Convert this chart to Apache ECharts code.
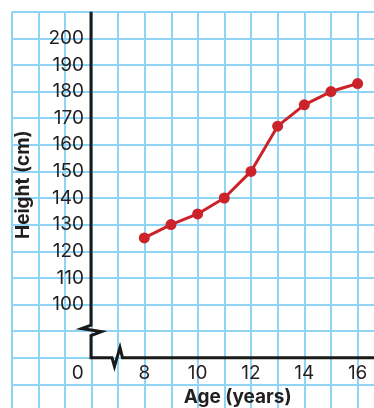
<!DOCTYPE html>
<html><head><meta charset="utf-8">
<script src="https://cdn.jsdelivr.net/npm/echarts@6/dist/echarts.min.js"></script>
<style>html,body{margin:0;padding:0;background:#fff}#c{width:374px;height:408px}</style>
</head><body><div id="c"></div>
<script>
const ages = [8, 9, 10, 11, 12, 13, 14, 15, 16];
const heights = [125, 130, 134, 140, 150, 167, 175, 180, 183];
const xTickValues = [8, 10, 12, 14, 16];
const yTickValues = [100, 110, 120, 130, 140, 150, 160, 170, 180, 190, 200];
const originLabel = '0';
const xTitle = 'Age (years)';
const yTitle = 'Height (cm)';

const gridColor = '#8fd4f3';
const ink = '#231f20';
const red = '#cc2229';
const font = 'Inter';

const chart = echarts.init(document.getElementById('c'), null, {renderer: 'canvas'});
const option = {
  animation: false,
  backgroundColor: '#fff',
  grid: [
    {left: 11.7, top: 11.7, right: -10.3, bottom: -3, outerBoundsMode: 'none', containLabel: false},
    {left: 91, top: 11.7, right: -10.3, bottom: 50.3, outerBoundsMode: 'none', containLabel: false}
  ],
  xAxis: [
    {gridIndex: 0, type: 'value', min: 3, max: 17, interval: 1,
     axisLine: {show: false}, axisTick: {show: false}, axisLabel: {show: false},
     splitLine: {show: true, lineStyle: {color: gridColor, width: 2}}},
    {gridIndex: 1, type: 'value', min: 6, max: 17, interval: 2,
     axisLine: {show: false}, axisTick: {show: false}, splitLine: {show: false},
     axisLabel: {formatter: v => xTickValues.includes(v) ? String(v) : '', color: ink,
                 fontFamily: font, fontSize: 19, margin: 6},
     name: xTitle, nameLocation: 'middle', nameGap: 28,
     nameTextStyle: {color: ink, fontFamily: font, fontWeight: 'bold', fontSize: 19}}
  ],
  yAxis: [
    {gridIndex: 0, type: 'value', min: 60, max: 210, interval: 10,
     axisLine: {show: false}, axisTick: {show: false}, axisLabel: {show: false},
     splitLine: {show: true, lineStyle: {color: gridColor, width: 2}}},
    {gridIndex: 1, type: 'value', min: 80, max: 210, interval: 10,
     axisLine: {show: false}, axisTick: {show: false}, splitLine: {show: false},
     axisLabel: {formatter: v => yTickValues.includes(v) ? String(v) : '', color: ink,
                 fontFamily: font, fontSize: 19, margin: 7},
     name: yTitle, nameLocation: 'middle', nameGap: 58, nameRotate: 90,
     nameTextStyle: {color: ink, fontFamily: font, fontWeight: 'bold', fontSize: 19}}
  ],
  series: [{
    type: 'line', xAxisIndex: 1, yAxisIndex: 1,
    data: ages.map((a, i) => [a, heights[i]]),
    symbol: 'circle', symbolSize: 11,
    lineStyle: {color: red, width: 3},
    itemStyle: {color: red},
    z: 5
  }]
};
chart.setOption(option);

const P = (x, y) => chart.convertToPixel({gridIndex: 1}, [x, y]);
const axTop = P(6, 210), axCorner = P(6, 80), axRight = P(17, 80);
const yb = P(6, 90), xb = P(7, 80);
const axisPts = [
  axTop,
  [yb[0], yb[1] - 6], [yb[0] - 9.5, yb[1] - 2.5], [yb[0] + 10.5, yb[1] + 0.5], [yb[0], yb[1] + 4.5],
  axCorner,
  [xb[0] - 5.7, xb[1]], [xb[0] - 3.2, xb[1] + 8.8], [xb[0] + 2.3, xb[1] - 10.2], [xb[0] + 4.8, xb[1]],
  axRight
];
const o = P(5.5, 80);
chart.setOption({
  graphic: [
    {type: 'polyline', z: 10, shape: {points: axisPts},
     style: {stroke: '#1a1a1a', lineWidth: 3, fill: null, lineJoin: 'miter'}},
    {type: 'text', z: 10, x: o[0], y: o[1] + 6,
     style: {text: originLabel, fill: ink, fontFamily: font, fontSize: 19,
             textAlign: 'center', textVerticalAlign: 'top', align: 'center', verticalAlign: 'top'}}
  ]
});
</script></body></html>
